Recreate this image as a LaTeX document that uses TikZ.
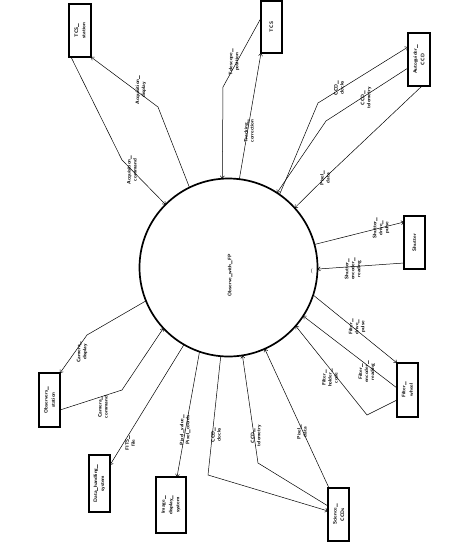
\documentclass[tikz,border=0pt]{standalone}
\usepackage{graphicx}
\usetikzlibrary{arrows.meta,calc}
\tikzset{
  every picture/.style={x=1pt,y=-1pt},
  box/.style={draw,rectangle,line width=1.5pt,inner sep=0pt,outer sep=0pt,align=center,
    font=\fontsize{5}{6}\selectfont\sffamily\bfseries},
  proc/.style={draw,circle,line width=1.7pt,inner sep=0pt,outer sep=0pt},
  lab/.style={rotate=90,align=center,inner sep=0pt,font=\fontsize{5}{6}\selectfont\sffamily\bfseries},
  flow/.style={line width=0.5pt,-{Straight Barb[length=2.5pt,width=4pt]}},
}
\begin{document}
\begin{tikzpicture}
\useasboundingbox (0,0) rectangle (470,542);
% process
\node[proc,minimum size=178pt] (proc) at (228.5,267.5) {};
\node[lab] (ptext) at (230,275) {Observe\_with\_FP};
\node[font=\fontsize{5}{6}\selectfont\sffamily,inner sep=0pt] (stray) at (312,271) {(};
% terminators
\node[box,minimum width=22pt,minimum height=53pt] (tcss) at (80,30.5) {\rotatebox{90}{\shortstack{TCS\_\\station}}};
\node[box,minimum width=21pt,minimum height=52pt] (tcs) at (271.5,27) {\rotatebox{90}{TCS}};
\node[box,minimum width=22pt,minimum height=53pt] (ag) at (419,59.5) {\rotatebox{90}{\shortstack{Autoguider\_\\CCD}}};
\node[box,minimum width=21pt,minimum height=53pt] (shut) at (414.5,242.5) {\rotatebox{90}{Shutter}};
\node[box,minimum width=21pt,minimum height=54pt] (fw) at (407.5,390) {\rotatebox{90}{\shortstack{Filter\_\\wheel}}};
\node[box,minimum width=21pt,minimum height=53pt] (sci) at (338.5,514.5) {\rotatebox{90}{\shortstack{Science\_\\CCDs}}};
\node[box,minimum width=30pt,minimum height=56pt] (ids) at (171,505) {\rotatebox{90}{\shortstack{Image\_\\display\_\\system}}};
\node[box,minimum width=21pt,minimum height=57pt] (dhs) at (99.5,483.5) {\rotatebox{90}{\shortstack{Data\_handling\_\\system}}};
\node[box,minimum width=21pt,minimum height=54pt] (obs) at (49.5,400) {\rotatebox{90}{\shortstack{Observers\_\\station}}};
% flows: TCS station
\draw[flow] (proc.116.7) -- (158,107) -- (tcss.south east);
\draw[flow] ($(tcss.south west)+(2,0)$) -- (122,160) -- (proc.135.4);
\node[lab] (l1) at (141,90) {Acquisition\_\\display};
\node[lab] (l2) at (132,170) {Acquisition\_\\command};
% TCS
\draw[flow] ($(tcs.north west)+(0,17)$) -- (223,87) -- (proc.94.8);
\draw[flow] (proc.83.9) -- (tcs.south west);
\node[lab] (l3) at (234,62) {Telescope\_\\position};
\node[lab] (l4) at (249,131) {Tracking\_\\correction};
% Autoguider
\draw[flow] (proc.55.3) -- (318,103) -- ($(ag.north west)+(0,14)$);
\draw[flow] ($(ag.north west)+(0,35)$) -- (326,121) -- (proc.57.4);
\draw[flow] ($(ag.south west)+(14,0)$) -- (330,173) -- (proc.42.4);
\node[lab] (l5) at (339,88) {CCD\_\\clocks};
\node[lab] (l6) at (366,98) {CCD\_\\telemetry};
\node[lab] (l7) at (325,178) {Pixel\_\\data};
% Shutter
\draw[flow] (proc.15.6) -- ($(shut.north west)+(0,6)$);
\draw[flow] ($(shut.north west)+(0,47)$) -- (proc.-1);
\node[lab] (l8) at (381,228) {Shutter\_\\drive\_\\pulse};
\node[lab] (l9) at (353,269) {Shutter\_\\encoder\_\\reading};
% Filter wheel
\draw[flow] (proc.-18.8) -- (fw.north west);
\draw[flow] ($(fw.north west)+(0,25)$) -- (proc.-33.6);
\draw[flow] ($(fw.north west)+(0,37)$) -- (367,415) -- (proc.-41);
\node[lab] (l10) at (357,327) {Filter\_\\drive\_\\pulse};
\node[lab] (l11) at (367,372) {Filter\_\\encoder\_\\reading};
\node[lab] (l12) at (330,378) {Filter\_\\holder\_\\code};
% Science CCDs
\draw[flow] ($(sci.north west)+(1,0)$) -- (proc.-66.3);
\draw[flow] ($(sci.north west)+(0,18)$) -- (258,463) -- (proc.-81.5);
\draw[flow] (proc.265.9) -- (208,475) -- ($(sci.north west)+(0,23)$);
\node[lab] (l13) at (302,432) {Pixel\_\\data};
\node[lab] (l14) at (256,436) {CCD\_\\telemetry};
\node[lab] (l15) at (216,435) {CCD\_\\clocks};
% Image display
\draw[flow] (proc.251.4) -- ($(ids.north west)+(21,0)$);
\node[lab] (l16) at (185,430) {Pixel\_value\_\\Pixel\_coords};
% Data handling
\draw[flow] (proc.240) -- ($(dhs.north east)+(0,10)$);
\node[lab] (l17) at (130,443) {FITS\_\\file};
% Observers station
\draw[flow] (proc.202) -- (87,335) -- (obs.north east);
\draw[flow] ($(obs.north east)+(0,37)$) -- (122,390) -- (proc.223.6);
\node[lab] (l18) at (82,352) {Camera\_\\display};
\node[lab] (l19) at (103,407) {Camera\_\\command};
\end{tikzpicture}
\end{document}
